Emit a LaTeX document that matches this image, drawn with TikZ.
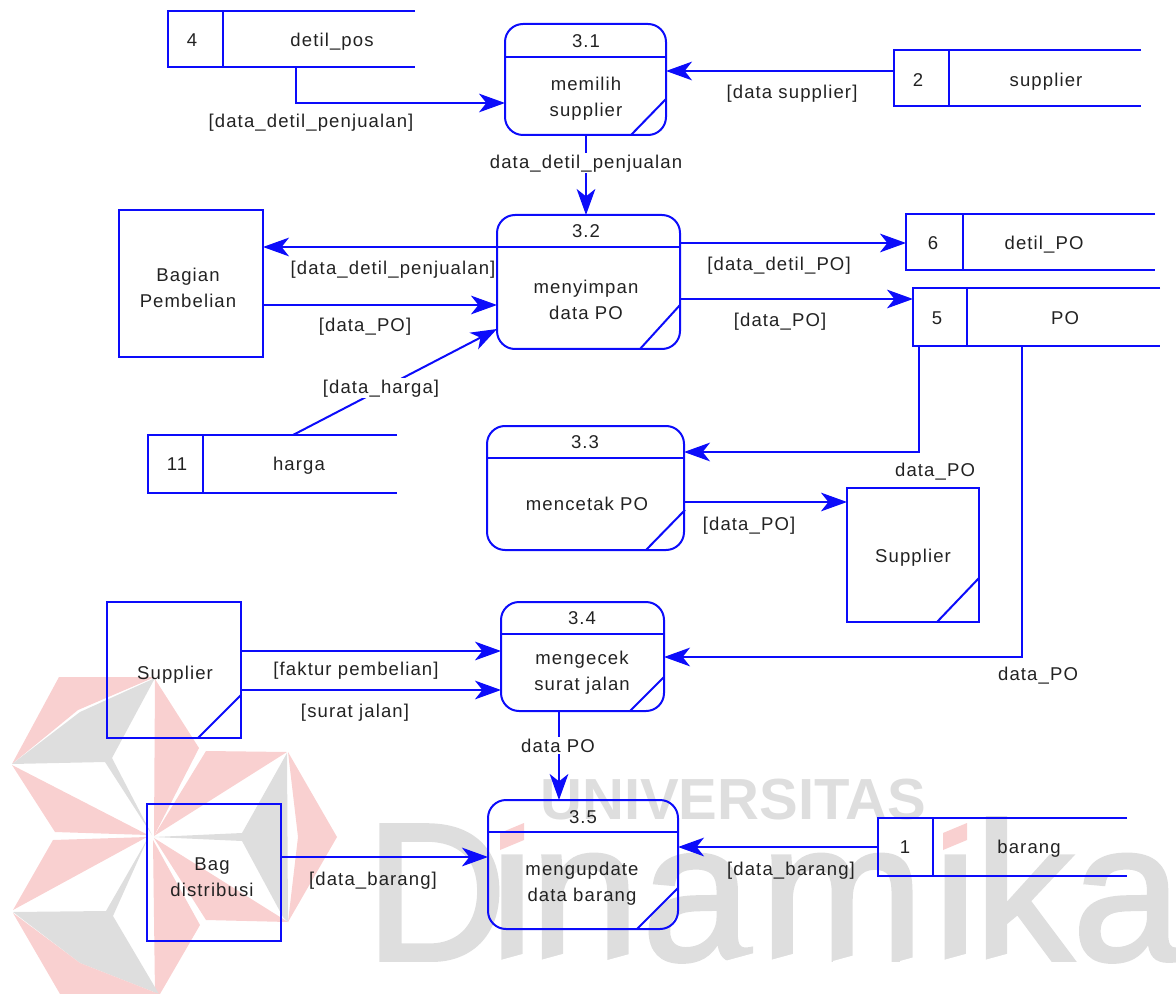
\documentclass[tikz,border=0pt]{standalone}
\usepackage{fontspec}
\setmainfont[LetterSpace=6]{Liberation Sans}
\newfontfamily\wmfont{Liberation Sans}
\newfontfamily\wmthick[FakeBold=2]{Liberation Sans}
\usetikzlibrary{arrows.meta,fit}
\definecolor{lineblue}{HTML}{0C0CFA}
\definecolor{wmgray}{HTML}{DEDEDE}
\definecolor{wmpink}{HTML}{F9D0D0}
\definecolor{txt}{HTML}{222222}
\tikzset{
  ln/.style={draw=lineblue,line width=1.5pt,line join=miter},
  flow/.style={ln,-{Stealth[length=19.5pt,width=14pt,inset=5.5pt]}},
  procbox/.style={ln,rounded corners=13.5pt,inner sep=0pt,outer sep=0pt},
  extbox/.style={ln,inner sep=0pt,outer sep=0pt},
  storebox/.style={inner sep=0pt,outer sep=0pt},
  lbln/.style={text=txt,inner sep=0pt,outer sep=0pt,align=center,font=\fontsize{13.9}{19.5}\selectfont},
  lbl/.style={lbln,yshift=-1.1pt},
  lblw/.style={lbl,fill=white,inner ysep=1pt,inner xsep=1pt},
  pk/.style={fill=wmpink,draw=none},
  gy/.style={fill=wmgray,draw=none},
}
\begin{document}
\begin{tikzpicture}[x=0.75pt,y=-0.75pt]
\useasboundingbox (0,0) rectangle (1176,994);
% watermark
\begin{scope}
\clip (0,0) rectangle (1176,994);
\fill[pk] (12,764) -- (59,677) -- (155,677) -- (78,710) -- cycle;
\fill[gy] (12,764) -- (80,712) -- (155,678) -- (112,758) -- (152,835) -- (105,762) -- cycle;
\fill[pk] (12,765) -- (55,832) -- (148,835) -- cycle;
\fill[pk] (155,679) -- (199,748) -- (154,836) -- cycle;
\fill[pk] (206,751) -- (287,752) -- (154,836) -- cycle;
\fill[gy] (287,753) -- (242,833) -- (154,837) -- (242,841) -- (283,917) -- (288,922) -- cycle;
\fill[pk] (288,752) -- (337,837) -- (288,922) -- (298,837) -- cycle;
\fill[pk] (154,838) -- (206,920) -- (288,922) -- cycle;
\fill[pk] (153,840) -- (200,925) -- (160,994) -- (155,994) -- cycle;
\fill[gy] (13,912) -- (106,911) -- (148,838) -- (113,916) -- (159,994) -- (80,963) -- cycle;
\fill[pk] (53,840) -- (147,837) -- (13,910) -- cycle;
\fill[pk] (13,913) -- (80,963) -- (159,994) -- (60,994) -- cycle;
\node[anchor=base west,inner sep=0pt,text=wmgray,font=\wmthick\fontsize{147}{147}\selectfont] (wmdin) at (365,960)
  {D\kern-12.4pt i\kern-2.6pt n\kern2.25pt a\kern6.75pt m\kern7.5pt i\kern-1.9pt ka};
% cover the round dots of the i's, and cut the stems' feet on the slant
\fill[white] (494,812) rectangle (532,852);
\fill[white] (937,812) rectangle (975,852);
\foreach \sx in {500,540,607,728,770,836,903,943,984}{
  \fill[white] (\sx-3,965) -- (\sx+30,965) -- (\sx+30,952) -- (\sx-3,961) -- cycle;
}
\fill[pk] (500,833) -- (524,823) -- (524,840) -- (500,850) -- cycle;
\fill[pk] (943,833) -- (967,823) -- (967,840) -- (943,850) -- cycle;
\node[anchor=base west,inner sep=0pt,text=wmgray,font=\wmfont\bfseries\fontsize{43.5}{43.5}\selectfont] (wmuni) at (540,819) {UNIVERSITAS};
\end{scope}
% data stores
\node[storebox,fit={(168,11)(415,67)}] (s4) {};
\node[storebox,fit={(894,50)(1141,106)}] (s2) {};
\node[storebox,fit={(906,214)(1155,270)}] (s6) {};
\node[storebox,fit={(913,288)(1160,346)}] (s5) {};
\node[storebox,fit={(148,435)(397,493)}] (s11) {};
\node[storebox,fit={(878,818)(1127,876)}] (s1) {};
\foreach \s/\d in {s4/223,s2/949,s6/963,s5/967,s11/203,s1/933}{
  \draw[ln] (\s.north east) -- (\s.north west) -- (\s.south west) -- (\s.south east);
  \draw[ln] (\s.north west -| \d,0) -- (\s.south west -| \d,0);
}
\node[lbln] (s4n) at (192,40) {4};
\node[lbl] (s4l) at (332,40) {detil\_pos};
\node[lbln] (s2n) at (918,80) {2};
\node[lbl] (s2l) at (1046,80) {supplier};
\node[lbln] (s6n) at (933,243) {6};
\node[lbl] (s6l) at (1044,243) {detil\_PO};
\node[lbln] (s5n) at (937,318) {5};
\node[lbln] (s5l) at (1065,318) {PO};
\node[lbln] (s11n) at (177,464) {11};
\node[lbl] (s11l) at (299,464) {harga};
\node[lbln] (s1n) at (905,847) {1};
\node[lbl] (s1l) at (1029,847) {barang};
% processes
\node[procbox,fit={(505,24)(666,135)}] (p31) {};
\node[procbox,fit={(497,215)(680,349)}] (p32) {};
\node[procbox,fit={(487,426)(684,550)}] (p33) {};
\node[procbox,fit={(501,602)(664,711)}] (p34) {};
\node[procbox,fit={(488,800)(678,929)}] (p35) {};
\draw[ln] (p31.west |- 0,57) -- (p31.east |- 0,57);
\draw[ln] (p32.west |- 0,247) -- (p32.east |- 0,247);
\draw[ln] (p33.west |- 0,458) -- (p33.east |- 0,458);
\draw[ln] (p34.west |- 0,634) -- (p34.east |- 0,634);
\draw[ln] (p35.west |- 0,832) -- (p35.east |- 0,832);
\draw[ln] (631,135) -- (666,99);
\draw[ln] (640,349) -- (680,305);
\draw[ln] (646,550) -- (685,510);
\draw[ln] (630,711) -- (664,677);
\draw[ln] (637,929) -- (678,888);
\node[lbln] (p31t) at (586,41) {3.1};
\node[lbl] (p31x) at (586,97) {memilih\\supplier};
\node[lbln] (p32t) at (586,231) {3.2};
\node[lbl] (p32x) at (586,298) {menyimpan\\data PO};
\node[lbln] (p33t) at (585,442) {3.3};
\node[lbln] (p33x) at (587,504) {mencetak PO};
\node[lbln] (p34t) at (582,618) {3.4};
\node[lbl] (p34x) at (582,671) {mengecek\\surat jalan};
\node[lbln] (p35t) at (583,817) {3.5};
\node[lbl] (p35x) at (582,882) {mengupdate\\data barang};
% external entities
\node[extbox,fit={(119,210)(263,357)}] (bp) {};
\node[extbox,fit={(847,488)(979,622)}] (st) {};
\node[extbox,fit={(107,602)(241,738)}] (sl) {};
\node[extbox,fit={(147,804)(281,941)}] (bd) {};
\draw[ln] (937,622) -- (979,578);
\draw[ln] (198,738) -- (241,695);
\node[lbl] (bpx) at (188,286) {Bagian\\Pembelian};
\node[lbl] (stx) at (913,556) {Supplier};
\node[lbl] (slx) at (175,673) {Supplier};
\node[lbl] (bdx) at (212,876) {Bag\\distribusi};
% connectors
\draw[flow] (s4.south -| 296,0) |- (p31.west |- 0,103);
\draw[flow] (s2.west |- 0,71) -- (p31.east |- 0,71);
\draw[flow] (p31.south -| 586,0) -- (p32.north -| 586,0);
\draw[flow] (p32.west |- 0,247) -- (bp.east |- 0,247);
\draw[flow] (bp.east |- 0,305) -- (p32.west |- 0,305);
\draw[flow] (s11.north -| 293,0) -- (p32.west |- 0,329);
\draw[flow] (p32.east |- 0,243) -- (s6.west |- 0,243);
\draw[flow] (p32.east |- 0,299) -- (s5.west |- 0,299);
\draw[flow] (s5.south -| 919,0) |- (p33.east |- 0,452);
\draw[flow] (p33.east |- 0,502) -- (st.west |- 0,502);
\draw[flow] (s5.south -| 1022,0) |- (p34.east |- 0,657);
\draw[flow] (sl.east |- 0,651) -- (p34.west |- 0,651);
\draw[flow] (sl.east |- 0,690) -- (p34.west |- 0,690);
\draw[flow] (p34.south -| 559,0) -- (p35.north -| 559,0);
\draw[flow] (bd.east |- 0,857) -- (p35.west |- 0,857);
\draw[flow] (s1.west |- 0,847) -- (p35.east |- 0,847);
% connector labels
\node[lbl] (l1) at (311,121) {[data\_detil\_penjualan]};
\node[lbl] (l2) at (792,92) {[data supplier]};
\node[lblw] (l3) at (586,162) {data\_detil\_penjualan};
\node[lbl] (l4) at (393,268) {[data\_detil\_penjualan]};
\node[lbl] (l5) at (365,325) {[data\_PO]};
\node[lbl] (l6) at (779,264) {[data\_detil\_PO]};
\node[lbl] (l7) at (780,320) {[data\_PO]};
\node[lblw] (l8) at (381,387) {[data\_harga]};
\node[lbl] (l9) at (935,470) {data\_PO};
\node[lbl] (l10) at (749,524) {[data\_PO]};
\node[lbl] (l11) at (356,669) {[faktur pembelian]};
\node[lbl] (l12) at (355,711) {[surat jalan]};
\node[lbl] (l13) at (1038,674) {data\_PO};
\node[lblw] (l14) at (558,744) {data PO};
\node[lbl] (l15) at (373,879) {[data\_barang]};
\node[lbl] (l16) at (791,869) {[data\_barang]};
\end{tikzpicture}
\end{document}
